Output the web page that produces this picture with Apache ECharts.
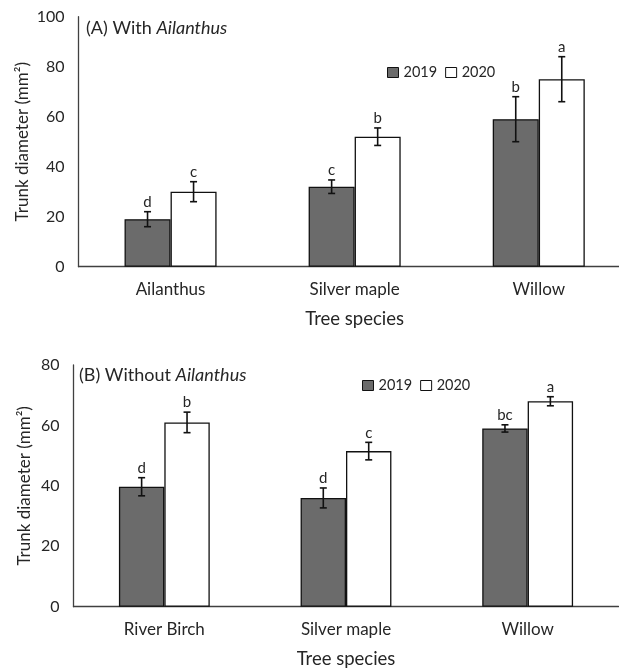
<!DOCTYPE html>
<html><head><meta charset="utf-8">
<script src="https://cdn.jsdelivr.net/npm/echarts@6/dist/echarts.min.js"></script>
<style>html,body{margin:0;padding:0;background:#fff}#c{width:619px;height:669px}</style>
</head><body><div id="c"></div>
<script>
// Panel A: With Ailanthus
const catsA = ['Ailanthus', 'Silver maple', 'Willow'];
const a2019 = [19, 32, 59];
const a2019Err = [3, 2.7, 9];
const a2020 = [30, 52, 75];
const a2020Err = [4, 3.5, 9];
const lettersA2019 = ['d', 'c', 'b'];
const lettersA2020 = ['c', 'b', 'a'];
// Panel B: Without Ailanthus
const catsB = ['River Birch', 'Silver maple', 'Willow'];
const b2019 = [39.7, 36, 59];
const b2019Err = [3, 3.3, 1.2];
const b2020 = [61, 51.5, 68];
const b2020Err = [3.4, 2.9, 1.5];
const lettersB2019 = ['d', 'd', 'bc'];
const lettersB2020 = ['b', 'c', 'a'];
const yTicksA = [0, 20, 40, 60, 80, 100];
const yTicksB = [0, 20, 40, 60, 80];

const FONT = 'Lato, "Open Sans", sans-serif';
const TXT = '#262626';
const C2019 = '#6b6b6b';

function errData(vals, errs, letters) {
  return vals.map((v, i) => [i, v, errs[i], letters[i]]);
}
function errSeries(name, grid, vals, errs, letters, side) {
  return {
    type: 'custom', name: name + ' err', xAxisIndex: grid, yAxisIndex: grid,
    z: 5, silent: true,
    data: errData(vals, errs, letters),
    encode: {x: 0, y: 1},
    renderItem: function (params, api) {
      const band = api.size([1, 0])[0];
      const c = api.coord([api.value(0), api.value(1)]);
      const x = c[0] + side * band * 0.125;
      const hi = api.coord([api.value(0), api.value(1) + api.value(2)])[1];
      const lo = api.coord([api.value(0), api.value(1) - api.value(2)])[1];
      const cap = 3.5;
      const st = {stroke: '#111', lineWidth: 1.6};
      return {type: 'group', children: [
        {type: 'line', shape: {x1: x, y1: hi, x2: x, y2: lo}, style: st},
        {type: 'line', shape: {x1: x - cap, y1: hi, x2: x + cap, y2: hi}, style: st},
        {type: 'line', shape: {x1: x - cap, y1: lo, x2: x + cap, y2: lo}, style: st},
        {type: 'text', x: x, y: hi - 2, style: {text: api.value(3), fill: TXT, font: '15px ' + FONT, align: 'center', verticalAlign: 'bottom'}}
      ]};
    }
  };
}
function barSeries(name, grid, vals, color) {
  return {
    type: 'bar', name: name, xAxisIndex: grid, yAxisIndex: grid,
    data: vals, barGap: '0%', barCategoryGap: '50%',
    itemStyle: {color: color, borderColor: '#111', borderWidth: 1.3}
  };
}
const axisLine = {show: true, lineStyle: {color: '#404040', width: 1.3}};
function xAxis(grid, cats) {
  return {type: 'category', gridIndex: grid, data: cats,
    axisLine: axisLine, axisTick: {show: false},
    axisLabel: {color: TXT, fontSize: 17, fontFamily: FONT, margin: 14},
    name: 'Tree species', nameLocation: 'middle', nameGap: 43, nameMoveOverlap: false,
    nameTextStyle: {color: TXT, fontSize: 18.5, fontFamily: FONT}};
}
function yAxis(grid, ticks, gap) {
  return {type: 'value', gridIndex: grid, min: ticks[0], max: ticks[ticks.length - 1], interval: ticks[1] - ticks[0],
    axisLine: axisLine, axisTick: {show: false}, splitLine: {show: false},
    axisLabel: {color: TXT, fontSize: 16, fontFamily: FONT, margin: 14},
    name: 'Trunk diameter (mm²)', nameLocation: 'middle', nameGap: gap, nameMoveOverlap: false,
    nameTextStyle: {color: TXT, fontSize: 17, fontFamily: FONT}};
}
const legendBase = {
  orient: 'horizontal', itemWidth: 11, itemHeight: 10, itemGap: 8, icon: 'rect',
  textStyle: {color: TXT, fontSize: 14.5, fontFamily: FONT},
  data: [
    {name: '2019', itemStyle: {color: C2019, borderColor: '#111', borderWidth: 1}},
    {name: '2020', itemStyle: {color: '#fff', borderColor: '#111', borderWidth: 1}}
  ],
  selectedMode: false
};

const chart = echarts.init(document.getElementById('c'), null, {renderer: 'canvas'});
chart.setOption({
  animation: false,
  backgroundColor: '#fff',
  title: [
    {text: '(A) With {i|Ailanthus}', left: 81, top: 14,
      textStyle: {color: TXT, fontSize: 18, fontWeight: 'normal', fontFamily: FONT,
        rich: {i: {fontStyle: 'italic', fontSize: 18, fontFamily: FONT, color: TXT}}}},
    {text: '(B) Without {i|Ailanthus}', left: 74, top: 361,
      textStyle: {color: TXT, fontSize: 18, fontWeight: 'normal', fontFamily: FONT,
        rich: {i: {fontStyle: 'italic', fontSize: 18, fontFamily: FONT, color: TXT}}}}
  ],
  legend: [
    Object.assign({}, legendBase, {left: 382, top: 60}),
    Object.assign({}, legendBase, {left: 357, top: 373})
  ],
  grid: [
    {left: 78.5, top: 16.7, right: -11.8, height: 250, outerBoundsMode: 'none', containLabel: false},
    {left: 73.5, top: 365, right: 0.5, height: 241.7, outerBoundsMode: 'none', containLabel: false}
  ],
  xAxis: [xAxis(0, catsA), xAxis(1, catsB)],
  yAxis: [yAxis(0, yTicksA, 47), yAxis(1, yTicksB, 40)],
  series: [
    barSeries('2019', 0, a2019, C2019),
    barSeries('2020', 0, a2020, '#fff'),
    barSeries('2019', 1, b2019, C2019),
    barSeries('2020', 1, b2020, '#fff'),
    errSeries('2019', 0, a2019, a2019Err, lettersA2019, -1),
    errSeries('2020', 0, a2020, a2020Err, lettersA2020, 1),
    errSeries('2019', 1, b2019, b2019Err, lettersB2019, -1),
    errSeries('2020', 1, b2020, b2020Err, lettersB2020, 1)
  ]
});
</script></body></html>
